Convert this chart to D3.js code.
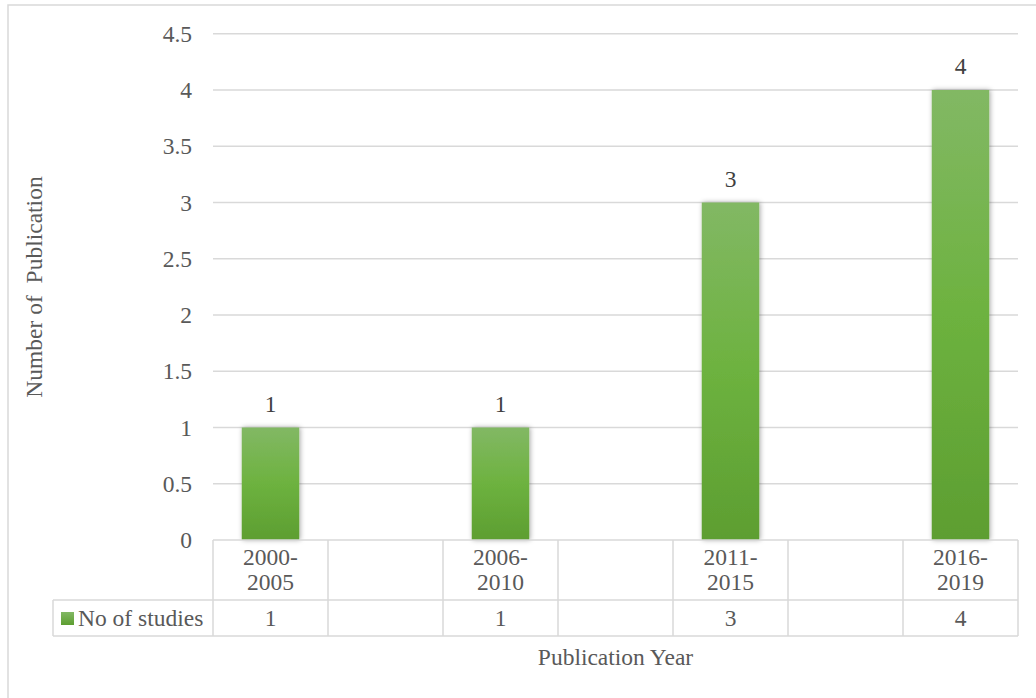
<!DOCTYPE html>
<html>
<head>
<meta charset="utf-8">
<script src="https://cdn.jsdelivr.net/npm/d3@7"></script>
<style>
  html, body { margin: 0; padding: 0; background: #fff; }
  svg { display: block; }
  svg text { font-family: "Liberation Serif", "Times New Roman", serif; }
</style>
</head>
<body>
<svg id="chart" width="1036" height="698"></svg>
<script>
const categories = ["2000-2005", "", "2006-2010", "", "2011-2015", "", "2016-2019"];
const values = [1, null, 1, null, 3, null, 4];
const yTicks = [0, 0.5, 1, 1.5, 2, 2.5, 3, 3.5, 4, 4.5];
const seriesName = "No of studies";
const yTitle = "Number of  Publication";
const xTitle = "Publication Year";

const svg = d3.select("#chart");
const plot = { left: 213, right: 1018, top: 33.75, bottom: 540 };
const rowH1 = 60, rowH2 = 36;
const textColor = "#595959";
const gridColor = "#d9d9d9";
const fs = 23.5;

// outer chart border
svg.append("rect").attr("x", 8).attr("y", 5).attr("width", 1100).attr("height", 800)
  .attr("fill", "none").attr("stroke", gridColor).attr("stroke-width", 1.5);

const x = d3.scaleBand().domain(d3.range(categories.length)).range([plot.left, plot.right]).padding(0);
const y = d3.scaleLinear().domain([0, 4.5]).range([plot.bottom, plot.top]);

const defs = svg.append("defs");
const grad = defs.append("linearGradient").attr("id", "barGrad")
  .attr("x1", 0).attr("y1", 0).attr("x2", 0).attr("y2", 1);
grad.append("stop").attr("offset", "0%").attr("stop-color", "#82b864");
grad.append("stop").attr("offset", "50%").attr("stop-color", "#6db23f");
grad.append("stop").attr("offset", "100%").attr("stop-color", "#5d9e31");

const shadow = defs.append("filter").attr("id", "shadow")
  .attr("x", "-30%").attr("y", "-10%").attr("width", "160%").attr("height", "120%");
shadow.append("feDropShadow").attr("dx", 1).attr("dy", 0).attr("stdDeviation", 2.5)
  .attr("flood-color", "#000").attr("flood-opacity", 0.35);

const legGrad = defs.append("linearGradient").attr("id", "legGrad")
  .attr("x1", 0).attr("y1", 0).attr("x2", 0).attr("y2", 1);
legGrad.append("stop").attr("offset", "0%").attr("stop-color", "#82b864");
legGrad.append("stop").attr("offset", "100%").attr("stop-color", "#5d9e31");

// gridlines
svg.append("g").selectAll("line").data(yTicks.filter(d => d > 0)).join("line")
  .attr("x1", plot.left).attr("x2", plot.right)
  .attr("y1", d => y(d)).attr("y2", d => y(d))
  .attr("stroke", gridColor).attr("stroke-width", 1.5);

// y tick labels
const yAxis = d3.axisLeft(y).tickValues(yTicks).tickSize(0).tickPadding(0).tickFormat(d3.format("~g"));
const yg = svg.append("g").attr("transform", `translate(192,0)`).call(yAxis);
yg.attr("font-family", null);
yg.select(".domain").remove();
yg.selectAll("text").attr("font-size", fs).attr("fill", textColor);

// bars
const barW = x.bandwidth() * 0.5;
const barData = values.map((v, i) => ({ v, i })).filter(d => d.v != null);
svg.append("g").selectAll("rect").data(barData).join("rect")
  .attr("x", d => x(d.i) + (x.bandwidth() - barW) / 2)
  .attr("y", d => y(d.v))
  .attr("width", barW)
  .attr("height", d => y(0) - y(d.v))
  .attr("fill", "url(#barGrad)")
  .attr("filter", "url(#shadow)");

// data labels
svg.append("g").selectAll("text").data(barData).join("text")
  .attr("x", d => x(d.i) + x.bandwidth() / 2)
  .attr("y", d => y(d.v) - 16)
  .attr("text-anchor", "middle").attr("font-size", fs).attr("fill", "#404040")
  .text(d => d.v);

// data table
const tbl = svg.append("g").attr("stroke", gridColor).attr("stroke-width", 1.5).attr("fill", "none");
const y0 = plot.bottom, y1 = plot.bottom + rowH1, y2 = y1 + rowH2;
const legendLeft = 53;
tbl.append("line").attr("x1", plot.left).attr("x2", plot.right).attr("y1", y0).attr("y2", y0);
tbl.append("line").attr("x1", legendLeft).attr("x2", plot.right).attr("y1", y1).attr("y2", y1);
tbl.append("line").attr("x1", legendLeft).attr("x2", plot.right).attr("y1", y2).attr("y2", y2);
tbl.append("line").attr("x1", legendLeft).attr("x2", legendLeft).attr("y1", y1).attr("y2", y2);
const bounds = d3.range(categories.length + 1).map(i => i < categories.length ? x(i) : plot.right);
tbl.selectAll("line.v").data(bounds).join("line").attr("class", "v")
  .attr("x1", d => d).attr("x2", d => d).attr("y1", y0).attr("y2", y2);

// category labels (two lines)
const catG = svg.append("g");
categories.forEach((c, i) => {
  if (!c) return;
  const parts = c.split("-");
  const cx = x(i) + x.bandwidth() / 2;
  const t = catG.append("text").attr("text-anchor", "middle").attr("font-size", fs).attr("fill", textColor);
  t.append("tspan").attr("x", cx).attr("y", y0 + 25).text(parts[0] + "-");
  t.append("tspan").attr("x", cx).attr("y", y0 + 50).text(parts[1]);
});

// value row
svg.append("g").selectAll("text").data(barData).join("text")
  .attr("x", d => x(d.i) + x.bandwidth() / 2)
  .attr("y", y1 + 26)
  .attr("text-anchor", "middle").attr("font-size", fs).attr("fill", textColor)
  .text(d => d.v);

// legend key
svg.append("rect").attr("x", 61).attr("y", y1 + 12).attr("width", 13).attr("height", 13)
  .attr("fill", "url(#legGrad)");
svg.append("text").attr("x", 78).attr("y", y1 + 26).attr("font-size", fs).attr("fill", textColor)
  .text(seriesName);

// axis titles
svg.append("text").attr("transform", `translate(42,287) rotate(-90)`)
  .attr("text-anchor", "middle").attr("font-size", fs).attr("fill", textColor)
  .attr("xml:space", "preserve").style("white-space", "pre")
  .text(yTitle);
svg.append("text").attr("x", (plot.left + plot.right) / 2).attr("y", 665)
  .attr("text-anchor", "middle").attr("font-size", fs).attr("fill", textColor)
  .text(xTitle);
</script>
</body>
</html>
